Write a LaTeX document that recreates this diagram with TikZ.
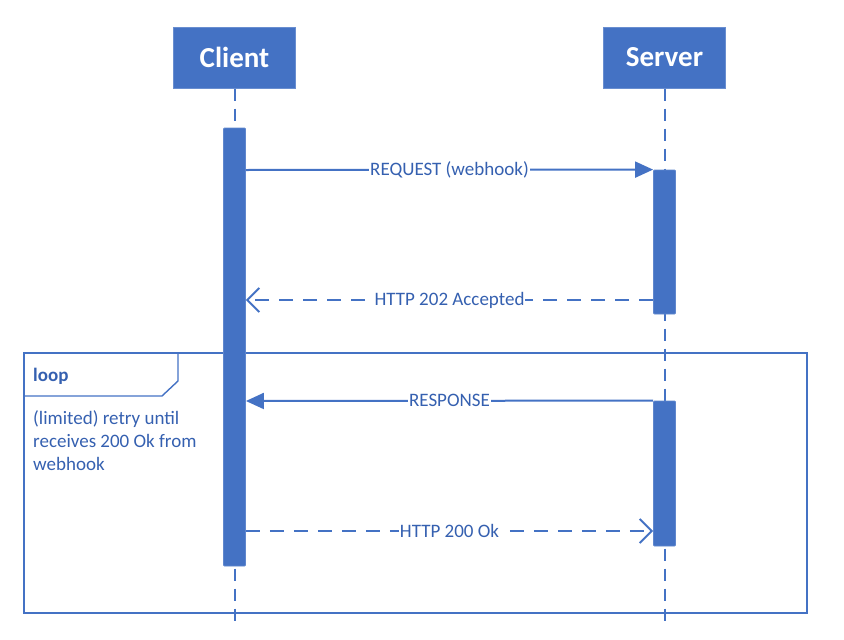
\documentclass[tikz,border=0pt]{standalone}
\usepackage{fontspec}
\setmainfont{Carlito}
\usetikzlibrary{arrows.meta,calc}
\definecolor{ublue}{HTML}{4472C4}
\definecolor{utext}{HTML}{3560B0}
\tikzset{
  head/.style={draw=ublue!80!white, fill=ublue, text=white, font=\bfseries\fontsize{29}{33}\selectfont, minimum width=122pt, minimum height=61pt, line width=1pt},
  actbar/.style={draw=ublue!85!white, fill=ublue, minimum width=22pt, inner sep=0pt, rounded corners=1pt, line width=0.8pt},
  life/.style={draw=ublue, line width=2pt, dash pattern=on 12pt off 8pt},
  msg/.style={draw=ublue, line width=2pt},
  msgret/.style={draw=ublue, line width=2pt, dash pattern=on 14pt off 10pt},
  filltip/.style={-{Triangle[length=18pt,width=16pt]}},
  opentip/.style={-{Straight Barb[length=12pt,width=24pt,line width=2pt]}},
  lbl/.style={fill=white, text=utext, inner sep=1pt, font=\fontsize{19}{22}\selectfont},
  frame/.style={draw=ublue, line width=1.4pt},
  frametext/.style={text=utext, font=\fontsize{19}{23}\selectfont, align=left, anchor=north west, inner sep=0pt}
}
\begin{document}
\begin{tikzpicture}[x=1pt,y=-1pt]
\useasboundingbox (0,0) rectangle (844,640);
% headers
\node[head] (client) at (234.5,57.5) {Client};
\node[head] (server) at (664.5,57.5) {Server};
\coordinate (cend) at (234.5,622);
\coordinate (send) at (664.5,622);
% lifelines
\draw[life] (client.south) -- (cend);
\draw[life] (server.south) -- (send);
% loop frame
\node[frame, minimum width=783pt, minimum height=260pt, inner sep=0pt] (loopframe) at (415.5,483) {};
\coordinate (tabA) at (178,353);
\coordinate (tabB) at (178,381);
\coordinate (tabC) at (162,396);
\coordinate (tabD) at (24,396);
\draw[frame] (tabA) -- (tabB) -- (tabC) -- (tabD);
\node[text=utext, font=\bfseries\fontsize{19}{22}\selectfont, anchor=west, inner sep=0pt] (looplbl) at (33,376) {loop};
\node[frametext] (guard) at (33,410) {(limited) retry until\\receives 200 Ok from\\webhook};
% activation bars
\node[actbar, minimum height=438pt] (ca) at (234.5,347) {};
\node[actbar, minimum height=144pt] (sa1) at (664.5,242) {};
\node[actbar, minimum height=145pt] (sa2) at (664.5,473.5) {};
% messages
\draw[msg, filltip] (ca.east |- 0,170) -- node[lbl] (m1) {REQUEST (webhook)} (sa1.north west);
\draw[msgret, opentip] (sa1.west |- 0,300) -- node[lbl] (m2) {HTTP 202 Accepted} (ca.east |- 0,300);
\draw[msg, filltip] (sa2.north west) -- node[lbl] (m3) {RESPONSE} (ca.east |- 0,401);
\draw[msgret, opentip] (ca.east |- 0,531) -- node[lbl] (m4) {HTTP 200 Ok} (sa2.west |- 0,531);
\end{tikzpicture}
\end{document}
